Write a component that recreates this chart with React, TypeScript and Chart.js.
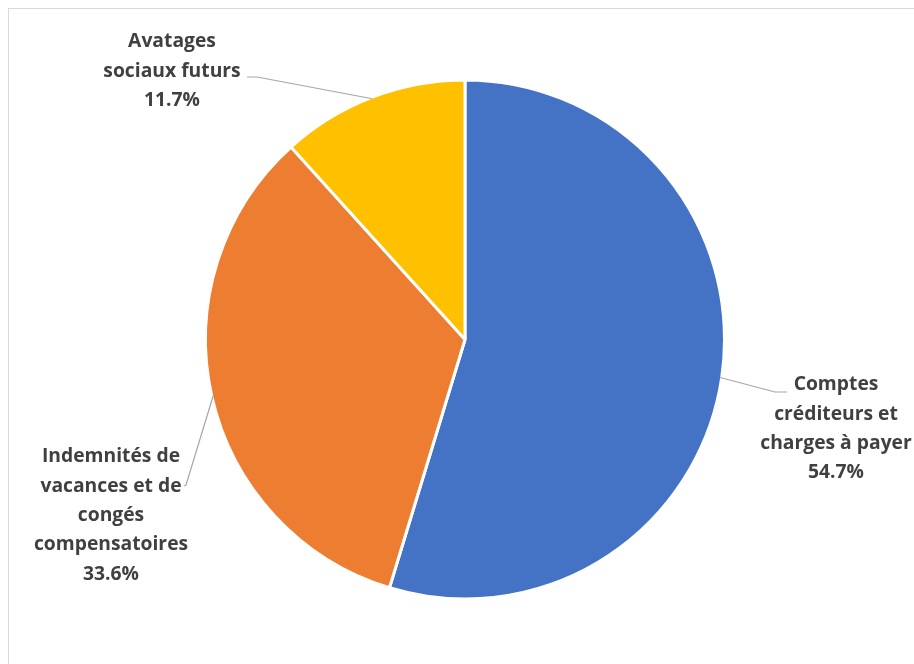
import React, { useEffect, useRef } from "react";
import { Chart, registerables } from "chart.js";

Chart.register(...registerables);

// ---- data ----
const categories = [
  "Comptes créditeurs et charges à payer",
  "Indemnités de vacances et de congés compensatoires",
  "Avatages sociaux futurs",
];
const shares = [54.7, 33.6, 11.7];
const labelLines = [
  ["Comptes", "créditeurs et", "charges à payer"],
  ["Indemnités de", "vacances et de", "congés", "compensatoires"],
  ["Avatages", "sociaux futurs"],
];
const colors = ["#4472C4", "#ED7D31", "#FFC000"];

// ---- label layout (canvas coordinates) ----
const labelLayout = [
  { cx: 827, top: 376, elbow: [766, 383], end: [778, 383] },
  { cx: 102, top: 448, elbow: [177, 476], end: [175, 477] },
  { cx: 163, top: 33, elbow: [248, 68], end: [238, 68] },
];
const LINE_H = 29.3;

const labelPlugin = {
  id: "outLabels",
  afterDatasetsDraw(chart: any) {
    const ctx = chart.ctx;
    const meta = chart.getDatasetMeta(0);
    ctx.save();
    meta.data.forEach((arc: any, i: number) => {
      const p = arc.getProps(["x", "y", "startAngle", "endAngle", "outerRadius"], true);
      const mid = (p.startAngle + p.endAngle) / 2;
      const r = p.outerRadius - 1.5;
      const ex = p.x + Math.cos(mid) * r;
      const ey = p.y + Math.sin(mid) * r;
      const L = labelLayout[i];
      ctx.strokeStyle = "#a6a6a6";
      ctx.lineWidth = 1.2;
      ctx.beginPath();
      ctx.moveTo(ex, ey);
      ctx.lineTo(L.elbow[0], L.elbow[1]);
      ctx.lineTo(L.end[0], L.end[1]);
      ctx.stroke();

      ctx.fillStyle = "#404040";
      ctx.font = "bold 19.3px 'Open Sans', sans-serif";
      ctx.textAlign = "center";
      ctx.textBaseline = "middle";
      const lines = [...labelLines[i], shares[i].toFixed(1) + "%"];
      lines.forEach((t, k) => {
        ctx.fillText(t, L.cx, L.top + k * LINE_H);
      });
    });
    ctx.restore();
  },
};

export default function App() {
  const ref = useRef<HTMLCanvasElement | null>(null);
  useEffect(() => {
    if (!ref.current) return;
    const chart = new Chart(ref.current, {
      type: "pie",
      data: {
        labels: categories,
        datasets: [
          {
            data: shares,
            backgroundColor: colors,
            borderColor: "#ffffff",
            borderWidth: 3,
          },
        ],
      },
      options: {
        animation: false,
        responsive: true,
        maintainAspectRatio: false,
        layout: { padding: { left: 195, right: 188, top: 69.5, bottom: 63.5 } },
        plugins: {
          legend: { display: false },
          tooltip: { enabled: false },
        },
      },
      plugins: [labelPlugin],
    });
    return () => chart.destroy();
  }, []);

  return (
    <div
      style={{
        position: "fixed",
        left: 8,
        top: 8,
        width: 1000,
        height: 1000,
        borderTop: "1px solid #d9d9d9",
        borderLeft: "1px solid #d9d9d9",
        background: "#fff",
        overflow: "hidden",
      }}
    >
      <div style={{ position: "relative", width: 905, height: 655 }}>
        <canvas ref={ref} />
      </div>
    </div>
  );
}
